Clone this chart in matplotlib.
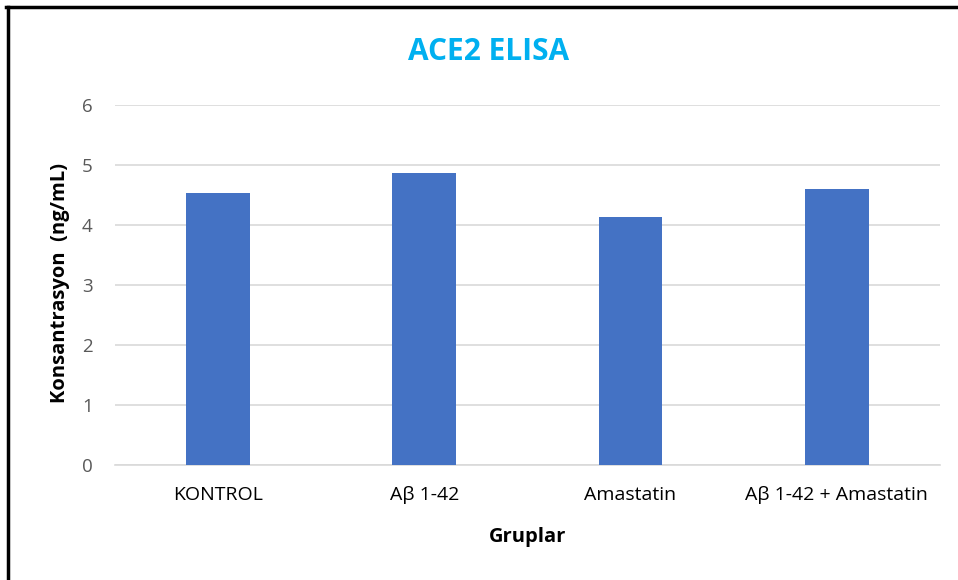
import matplotlib
matplotlib.use('Agg')
import matplotlib.pyplot as plt
from matplotlib.lines import Line2D
import numpy as np

matplotlib.rc('font', family=['Open Sans', 'DejaVu Sans'])

categories = ['KONTROL', 'Aβ 1-42', 'Amastatin', 'Aβ 1-42 + Amastatin']
values = [4.53, 4.86, 4.13, 4.60]
yticks = [0, 1, 2, 3, 4, 5, 6]

BAR_COLOR = '#4472C4'
GRID_COLOR = '#D9D9D9'

fig = plt.figure(figsize=(9.58, 5.8), dpi=100)
ax = fig.add_axes([0.120, 0.198, 0.861, 0.621])

x = np.arange(len(categories))
ax.bar(x, values, width=0.31, color=BAR_COLOR, zorder=3)

ax.set_xlim(-0.5, len(categories) - 0.5)
ax.set_ylim(0, 6)
ax.set_yticks(yticks)
ax.set_xticks(x)
ax.set_xticklabels(categories, fontsize=14, color='#000000')
ax.tick_params(axis='y', labelsize=13.5, labelcolor='#595959', length=0, pad=16)
ax.tick_params(axis='x', length=0, pad=15)
ax.grid(axis='y', color=GRID_COLOR, linewidth=1.2, zorder=0)
for s in ['top', 'right', 'left']:
    ax.spines[s].set_visible(False)
ax.spines['bottom'].set_color(GRID_COLOR)
ax.spines['bottom'].set_linewidth(1.2)

ax.set_xlabel('Gruplar', fontsize=14.5, fontweight='bold')
ax.set_ylabel('Konsantrasyon  (ng/mL)', fontsize=14.5, fontweight='bold')
ax.xaxis.set_label_coords(0.5, -0.2, transform=ax.transAxes)
ax.yaxis.set_label_coords(-0.067, 0.505, transform=ax.transAxes)
ax.xaxis.label.set_va('center')
ax.yaxis.label.set_va('center')

fig.text(489 / 958, 0.910, 'ACE2 ELISA', fontsize=21.5, fontweight='bold',
         color='#00B0F0', ha='center', va='center')

# screenshot frame (left and top edges)
fig.add_artist(Line2D([7.5 / 958, 7.5 / 958], [0, 1 - 6.5 / 580],
                      transform=fig.transFigure, color='black', linewidth=2.5))
fig.add_artist(Line2D([6 / 958, 1], [1 - 6.5 / 580, 1 - 6.5 / 580],
                      transform=fig.transFigure, color='black', linewidth=2.5))

plt.savefig('out.png', dpi=100)
